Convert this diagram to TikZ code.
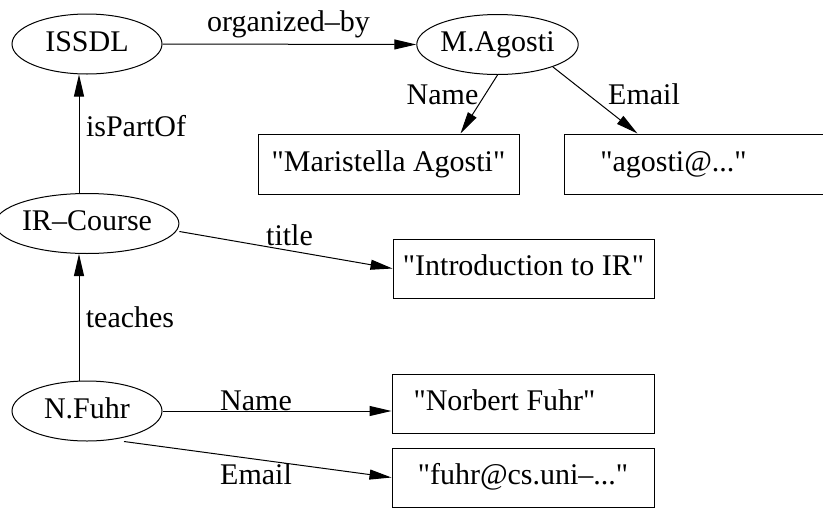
\documentclass[tikz,border=0pt]{standalone}
\usepackage{fontspec}
\setmainfont{Liberation Serif}[Ligatures=TeXOff]
\usetikzlibrary{arrows.meta,shapes.geometric}
\tikzset{
  txt/.style={font=\fontsize{30}{34}\selectfont, inner sep=0pt, text height=20.6pt, text depth=6pt},
  res/.style={txt, draw, line width=1pt, ellipse, minimum width=150pt, minimum height=60pt},
  valbox/.style={txt, draw, line width=1pt, rectangle},
  lbl/.style={txt},
  arr/.style={line width=1pt, -{Triangle[length=22pt,width=10pt]}}
}
\begin{document}
\begin{tikzpicture}[x=1pt,y=-1pt]
\useasboundingbox (0,0) rectangle (823,509);
\clip (0,0) rectangle (823,509);
% resources
\node[res] (issdl) at (87,44) {ISSDL};
\node[res] (magosti) at (497.5,44.5) {M.Agosti};
\node[res] (ircourse) at (87,223.5) {IR\textendash Course};
\node[res] (nfuhr) at (87,411) {N.Fuhr};
% values
\node[valbox, minimum width=261pt, minimum height=60pt] (mari) at (388.5,164) {"Maristella Agosti"};
\node[valbox, minimum width=276pt, minimum height=60pt] (agosti) at (702,164) {};
\node[lbl] (agostitxt) at (673.5,164) {"agosti@..."};
\node[valbox, minimum width=261pt, minimum height=59pt] (intro) at (523.5,268.5) {"Introduction to IR"};
\node[valbox, minimum width=262pt, minimum height=59pt] (norbert) at (523,403.5) {};
\node[lbl] (norberttxt) at (504.5,403.5) {"Norbert Fuhr"};
\node[valbox, minimum width=262pt, minimum height=59pt] (fuhr) at (523,477.5) {"fuhr@cs.uni\textendash..."};
% edges
\draw[arr] (issdl.east) -- (magosti.west);
\draw[arr] ([xshift=-8pt]ircourse.north) -- ([xshift=-8pt]issdl.south);
\draw[arr] ([xshift=-8pt]nfuhr.north) -- ([xshift=-8pt]ircourse.south);
\draw[arr] ([yshift=-8pt]ircourse.east) -- (intro.west);
\draw[arr] (magosti.south) -- ([xshift=72pt]mari.north);
\draw[arr] (magosti.-22) -- ([xshift=74pt]agosti.north west);
\draw[arr] (nfuhr.east) -- (nfuhr.east -| norbert.west);
\draw[arr] ([xshift=37pt]nfuhr.south) -- (fuhr.west);
% labels
\node[lbl] (l1) at (288.5,24) {organized\textendash by};
\node[lbl] (l2) at (442.5,97.6) {Name};
\node[lbl] (l3) at (644,97.6) {Email};
\node[lbl] (l4) at (136,129) {isPartOf};
\node[lbl] (l5) at (289.5,238) {title};
\node[lbl] (l6) at (130,320.6) {teaches};
\node[lbl] (l7) at (256,403.6) {Name};
\node[lbl] (l8) at (256,477.6) {Email};
\end{tikzpicture}
\end{document}
